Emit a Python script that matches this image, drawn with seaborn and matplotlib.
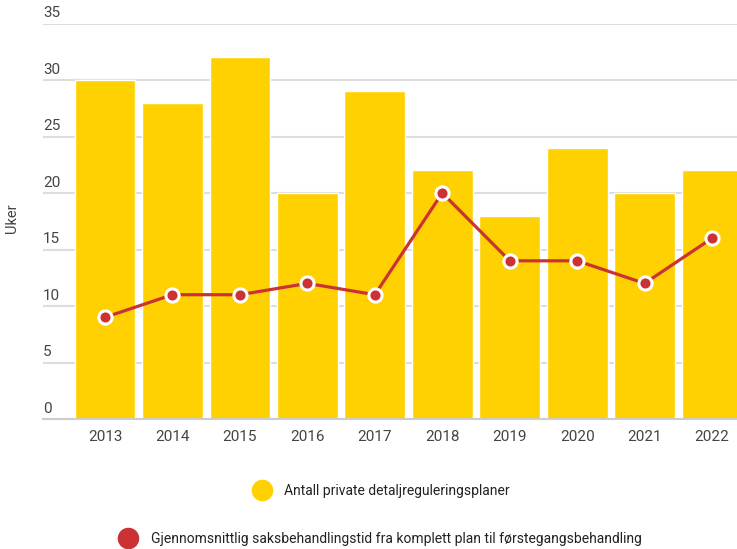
import numpy as np
import pandas as pd
import seaborn as sns
import matplotlib.pyplot as plt
from matplotlib.lines import Line2D
import matplotlib.transforms as mtransforms

years = ['2013', '2014', '2015', '2016', '2017', '2018', '2019', '2020', '2021', '2022']
antall_planer = [30, 28, 32, 20, 29, 22, 18, 24, 20, 22]
behandlingstid = [9, 11, 11, 12, 11, 20, 14, 14, 12, 16]
y_ticks = [0, 5, 10, 15, 20, 25, 30, 35]

label_bars = 'Antall private detaljreguleringsplaner'
label_line = 'Gjennomsnittlig saksbehandlingstid fra komplett plan til førstegangsbehandling'

yellow = '#FFD100'
red = '#CB3233'
text_col = '#444444'

df = pd.DataFrame({'år': years, 'planer': antall_planer, 'uker': behandlingstid})

sns.set_style('white')
plt.rcParams['font.family'] = ['Roboto', 'DejaVu Sans']

fig = plt.figure(figsize=(7.37, 5.49), dpi=100)
W, H = 737, 549
ax = fig.add_axes([43 / W, 1 - 419 / H, 1 - 43 / W, (419 - 23.5) / H])

sns.barplot(data=df, x='år', y='planer', color=yellow, width=0.9,
            saturation=1, ax=ax, zorder=2)
sns.pointplot(data=df, x='år', y='uker', color=red, markers='o',
              markersize=9.5, markeredgecolor='white', markeredgewidth=2.2,
              linewidth=2.3, ax=ax, zorder=4)

ax.set_ylim(0, 35)
ax.set_xlim(-0.92, 9.37)
ax.set_yticks(y_ticks)
ax.set_yticklabels([])
ax.tick_params(axis='y', length=0)
ax.tick_params(axis='x', length=0, pad=8, labelsize=11, labelcolor=text_col)
ax.grid(axis='y', color='#dddddd', linewidth=1.5, zorder=0)
ax.set_axisbelow(True)
for s in ['top', 'right', 'left']:
    ax.spines[s].set_visible(False)
ax.spines['bottom'].set_color('#cccccc')
ax.spines['bottom'].set_linewidth(1.5)
ax.set_xlabel('')
ax.set_ylabel('')

trans = mtransforms.blended_transform_factory(ax.transAxes, ax.transData)
for t in y_ticks:
    ax.text(0.0, t + 0.3, str(t), transform=trans, ha='left', va='bottom',
            fontsize=11, color=text_col)

fig.text(12 / W, 1 - 218 / H, 'Uker', rotation=90, ha='center', va='center',
         fontsize=10.5, color=text_col)

h1 = [Line2D([], [], marker='o', linestyle='', markersize=14.5,
             markerfacecolor=yellow, markeredgecolor=yellow)]
h2 = [Line2D([], [], marker='o', linestyle='', markersize=14.5,
             markerfacecolor=red, markeredgecolor=red)]
leg1 = fig.legend(h1, [label_bars], loc='center', bbox_to_anchor=(379 / W, 1 - 491 / H),
                  frameon=False, fontsize=10, handletextpad=0.6, labelcolor='#222222')
leg2 = fig.legend(h2, [label_line], loc='center', bbox_to_anchor=(378 / W, 1 - 539 / H),
                  frameon=False, fontsize=10, handletextpad=0.6, labelcolor='#222222')

fig.savefig('out.png', dpi=100)
